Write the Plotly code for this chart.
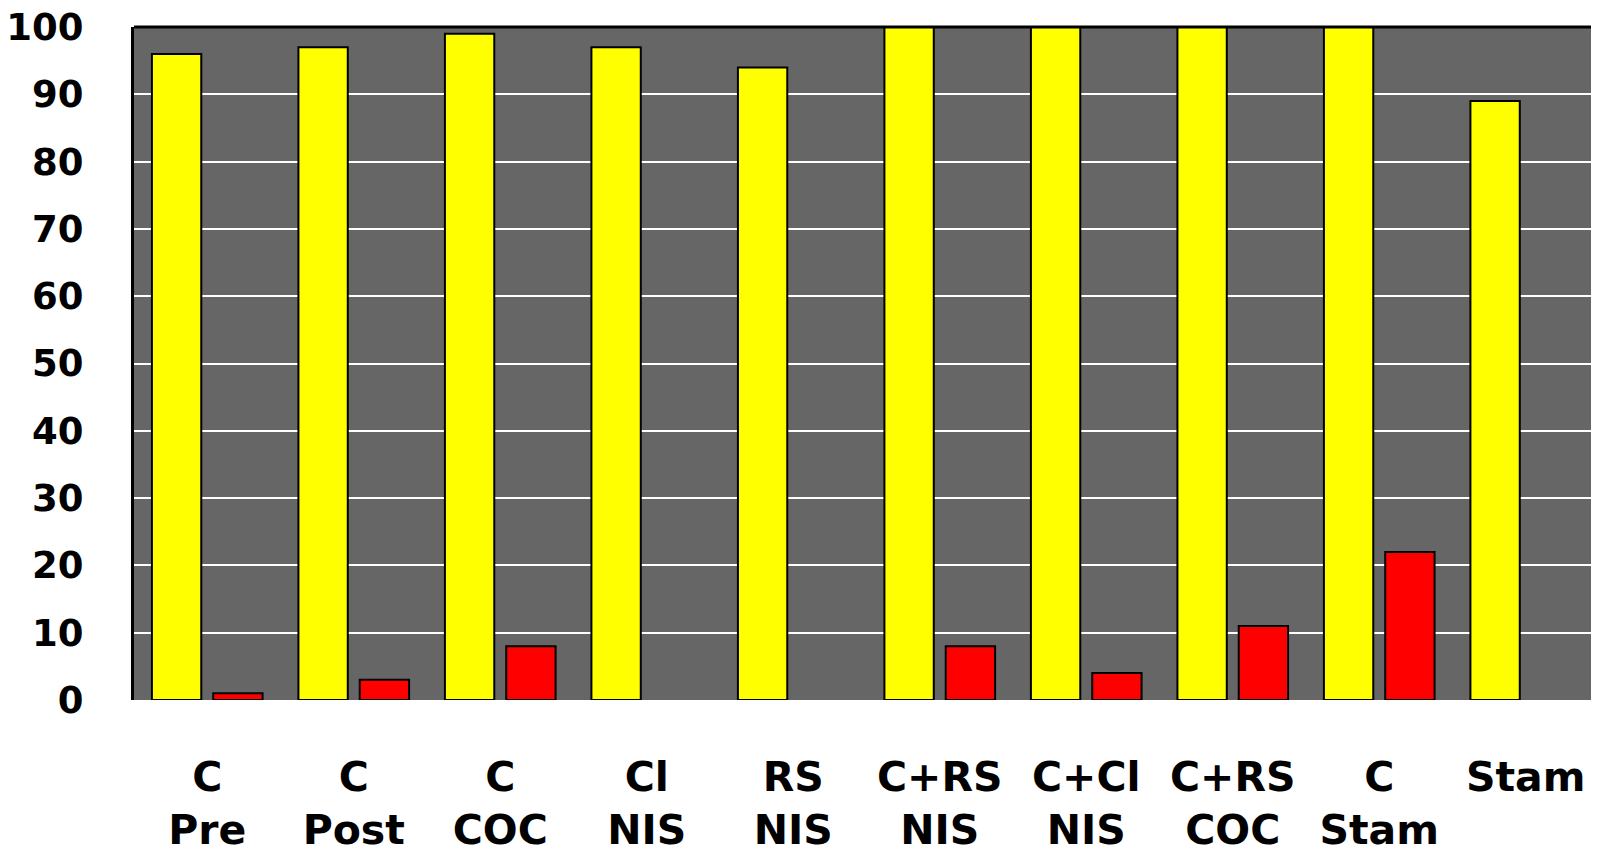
import plotly.graph_objects as go

categories = ["C<br>Pre", "C<br>Post", "C<br>COC", "Cl<br>NIS", "RS<br>NIS",
              "C+RS<br>NIS", "C+Cl<br>NIS", "C+RS<br>COC", "C<br>Stam", "Stam"]
yellow_values = [96, 97, 99, 97, 94, 100, 100, 100, 100, 89]
red_values = [1, 3, 8, None, None, 8, 4, 11, 22, None]
y_ticks = list(range(0, 101, 10))

fig = go.Figure()
fig.add_trace(go.Bar(x=categories, y=yellow_values, marker=dict(color="#FFFF00", line=dict(color="black", width=2)), name="A"))
fig.add_trace(go.Bar(x=categories, y=red_values, marker=dict(color="#FF0000", line=dict(color="black", width=2)), name="B"))

font = dict(family="DejaVu Sans", size=40, color="black")
# the page body has an 8px margin, so the figure is sized to fit inside the window
fig.update_layout(
    width=1591, height=847,
    margin=dict(l=126, r=0, t=19, b=155, autoexpand=False),
    paper_bgcolor="white", plot_bgcolor="#666666",
    showlegend=False, barmode="group", bargap=0.163, bargroupgap=0.195,
    font=font,
    xaxis=dict(showgrid=False, showline=False, ticks="", automargin=False,
               tickfont=dict(family="DejaVu Sans", size=41, color="black", weight="bold"),
               ticklabelstandoff=49, ticklabeloverflow="allow"),
    yaxis=dict(range=[0, 100], tickvals=y_ticks, showgrid=True, gridcolor="white", gridwidth=2,
               zeroline=False, showline=True, linecolor="black", linewidth=3, ticks="", automargin=False,
               tickfont=dict(family="DejaVu Sans", size=37, color="black", weight="bold"),
               ticklabelstandoff=40, ticklabeloverflow="allow"),
)
fig.add_shape(type="line", xref="paper", yref="paper", x0=0, x1=1, y0=1, y1=1, line=dict(color="black", width=3))
fig.write_html("out.html")
